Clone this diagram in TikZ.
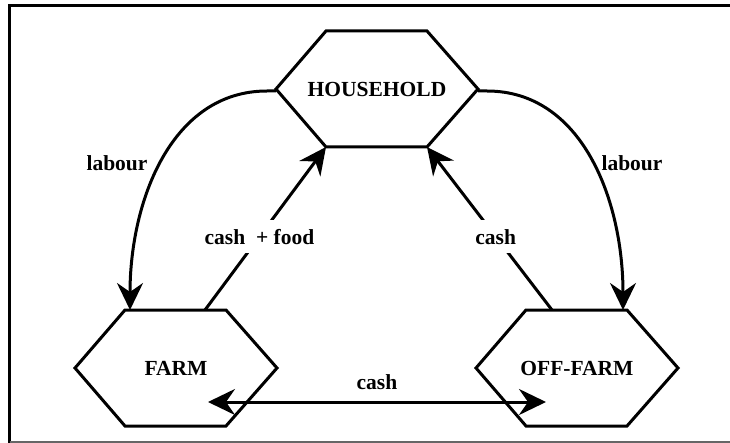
\documentclass[tikz,border=0pt]{standalone}
\usepackage{fontspec}
\setmainfont{Liberation Serif}
\usetikzlibrary{arrows.meta,calc}
\begin{document}
\begin{tikzpicture}[x=1pt,y=-1pt,
  lbl/.style={font=\fontsize{21.5}{24}\selectfont\bfseries, inner sep=0pt},
  hex/.style={line width=3pt, line join=miter},
  conn/.style={line width=3pt, -{Stealth[length=27pt,width=26pt,inset=9pt]}},
  dconn/.style={line width=3pt, {Stealth[length=27pt,width=26pt,inset=9pt]}-{Stealth[length=27pt,width=26pt,inset=9pt]}},
  gap/.style={font=\fontsize{21.5}{24}\selectfont\bfseries, fill=white, inner xsep=4pt, inner ysep=9pt}]
\useasboundingbox (0,0) rectangle (730,443);
% frame
\draw[line width=3pt] (9.5,443) -- (9.5,5.5) -- (730,5.5);
\draw[line width=1.5pt, black!60] (9.5,441.8) -- (730,441.8);
% nodes
\node[lbl] (h) at (377,89) {HOUSEHOLD};
\node[lbl] (f) at (176,368) {FARM};
\node[lbl] (o) at (577,368) {OFF-FARM};
% hexagons
\foreach \n in {h,f,o}{
  \draw[hex] ($(\n)+(-101,0)$) -- ($(\n)+(-51,-58)$) -- ($(\n)+(50,-58)$) -- ($(\n)+(101,0)$)
    -- ($(\n)+(50,58)$) -- ($(\n)+(-51,58)$) -- cycle;
}
% anchor coordinates
\coordinate (hW) at ($(h)+(-101,2)$);
\coordinate (hE) at ($(h)+(101,2)$);
\coordinate (hBL) at ($(h)+(-51,58)$);
\coordinate (hBR) at ($(h)+(50,58)$);
\coordinate (fT) at ($(f)+(-46,-58)$);
\coordinate (fC) at ($(f)+(29,-58)$);
\coordinate (fR) at ($(f)+(32,34)$);
\coordinate (oT) at ($(o)+(46,-58)$);
\coordinate (oC) at ($(o)+(-25,-58)$);
\coordinate (oL) at ($(o)+(-31,34)$);
% connectors
\draw[conn] (hW) -- ++(-9,0) .. controls +(-95,0) and +(0,-110) .. (fT);
\draw[conn] (hE) -- ++(9,0) .. controls +(95,0) and +(0,-110) .. (oT);
\draw[conn] (fC) -- node[gap, pos=0.45] {cash\ \ + food} (hBL);
\draw[conn] (oC) -- node[gap, pos=0.45] {cash} (hBR);
\draw[dconn] (fR) -- node[lbl, above=11pt] {cash} (oL);
% labels
\node[lbl] (lab1) at (117,163) {labour};
\node[lbl] (lab2) at (632,163) {labour};
\end{tikzpicture}
\end{document}
